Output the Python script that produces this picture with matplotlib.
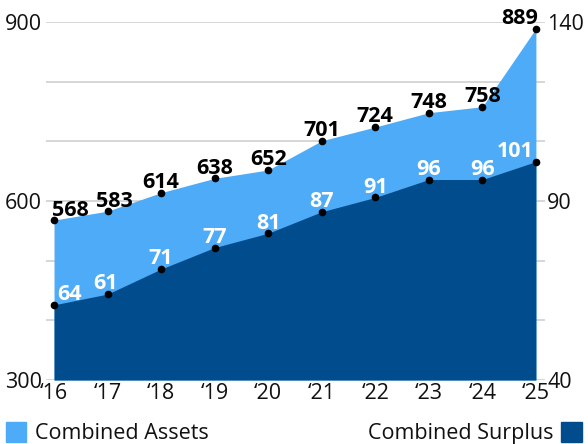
import numpy as np
import matplotlib
matplotlib.use('Agg')
import matplotlib.pyplot as plt
from matplotlib.patches import Rectangle

plt.rcParams['font.family'] = ['Open Sans', 'DejaVu Sans']

# ----------------------------------------------------------------------
# dados
years = ['\u201816', '\u201817', '\u201818', '\u201819', '\u201820',
         '\u201821', '\u201822', '\u201823', '\u201824', '\u201825']
assets = [568, 583, 614, 638, 652, 701, 724, 748, 758, 889]
# no original os dois primeiros pontos do surplus estao desenhados em 61 / 64
# mas rotulados 64 / 61
surplus = [61, 64, 71, 77, 81, 87, 91, 96, 96, 101]
surplus_labels = ['64', '61', '71', '77', '81', '87', '91', '96', '96', '101']
assets_labels = [str(v) for v in assets]

left_ticks = [300, 600, 900]
left_minor = [400, 500, 700, 800]
right_ticks = [40, 90, 140]

LIGHT = '#4dabf7'
DARK = '#014c8c'
GRID = '#d0d0d0'
FS = 15.5

W, H = 588, 444
fig = plt.figure(figsize=(W / 100, H / 100), dpi=100)
ax = fig.add_axes([46 / W, 1 - 380 / H, (545 - 46) / W, (380 - 22) / H])
x = np.arange(len(years))

ax.fill_between(x, left_ticks[0], assets, color=LIGHT, lw=0, zorder=2)
ax.plot(x, assets, 'o', color='black', ms=4.5, zorder=4, clip_on=False)
ax.set_xlim(-0.15, len(years) - 1 + 0.17)
ax.set_ylim(left_ticks[0], left_ticks[-1])
ax.set_yticks(left_ticks)
ax.set_yticks(left_minor, minor=True)
ax.grid(True, which='both', axis='y', color=GRID, lw=1.2, zorder=0)
ax.set_axisbelow(True)
ax.set_xticks(x)
ax.set_xticklabels(years)
ax.tick_params(axis='both', which='both', length=0, labelsize=FS, colors='#111111')
ax.tick_params(axis='x', pad=2.5)
ax.tick_params(axis='y', pad=3)

ax2 = ax.twinx()
ax2.fill_between(x, right_ticks[0], surplus, color=DARK, lw=0, zorder=2)
ax2.plot(x, surplus, 'o', color='black', ms=4.5, zorder=4, clip_on=False)
ax2.set_ylim(right_ticks[0], right_ticks[-1])
ax2.set_yticks(right_ticks)
ax2.tick_params(axis='y', length=0, labelsize=FS, pad=1.5, colors='#111111')

for a in (ax, ax2):
    for s in a.spines.values():
        s.set_visible(False)


def label_series(axis, vals, labels, color, dxs):
    n = len(vals)
    for i, (v, t) in enumerate(zip(vals, labels)):
        ha = 'left' if i == 0 else ('right' if i == n - 1 else 'center')
        axis.annotate(t, (x[i], v), xytext=(dxs.get(i, 0), 3.3),
                      textcoords='offset points', ha=ha, va='baseline',
                      fontsize=FS, fontweight='bold', color=color, zorder=5,
                      annotation_clip=False)


n = len(years)
label_series(ax, assets, assets_labels, 'black', {0: -1.5, 1: 5, n - 1: 1.5})
label_series(ax2, surplus, surplus_labels, 'white', {0: 2.5, 1: -1.5, n - 1: -2})

# legenda
fig.patches.append(Rectangle((6 / W, 2 / H), 20 / W, 20 / H, color=LIGHT,
                             transform=fig.transFigure, figure=fig))
fig.text(35 / W, 5 / H, 'Combined Assets', fontsize=15.5, ha='left', va='baseline',
         color='#111111')
fig.patches.append(Rectangle((561 / W, 2 / H), 21 / W, 20 / H, color=DARK,
                             transform=fig.transFigure, figure=fig))
fig.text(554 / W, 5 / H, 'Combined Surplus', fontsize=15.5, ha='right', va='baseline',
         color='#111111')

fig.savefig('out.png', dpi=100)
